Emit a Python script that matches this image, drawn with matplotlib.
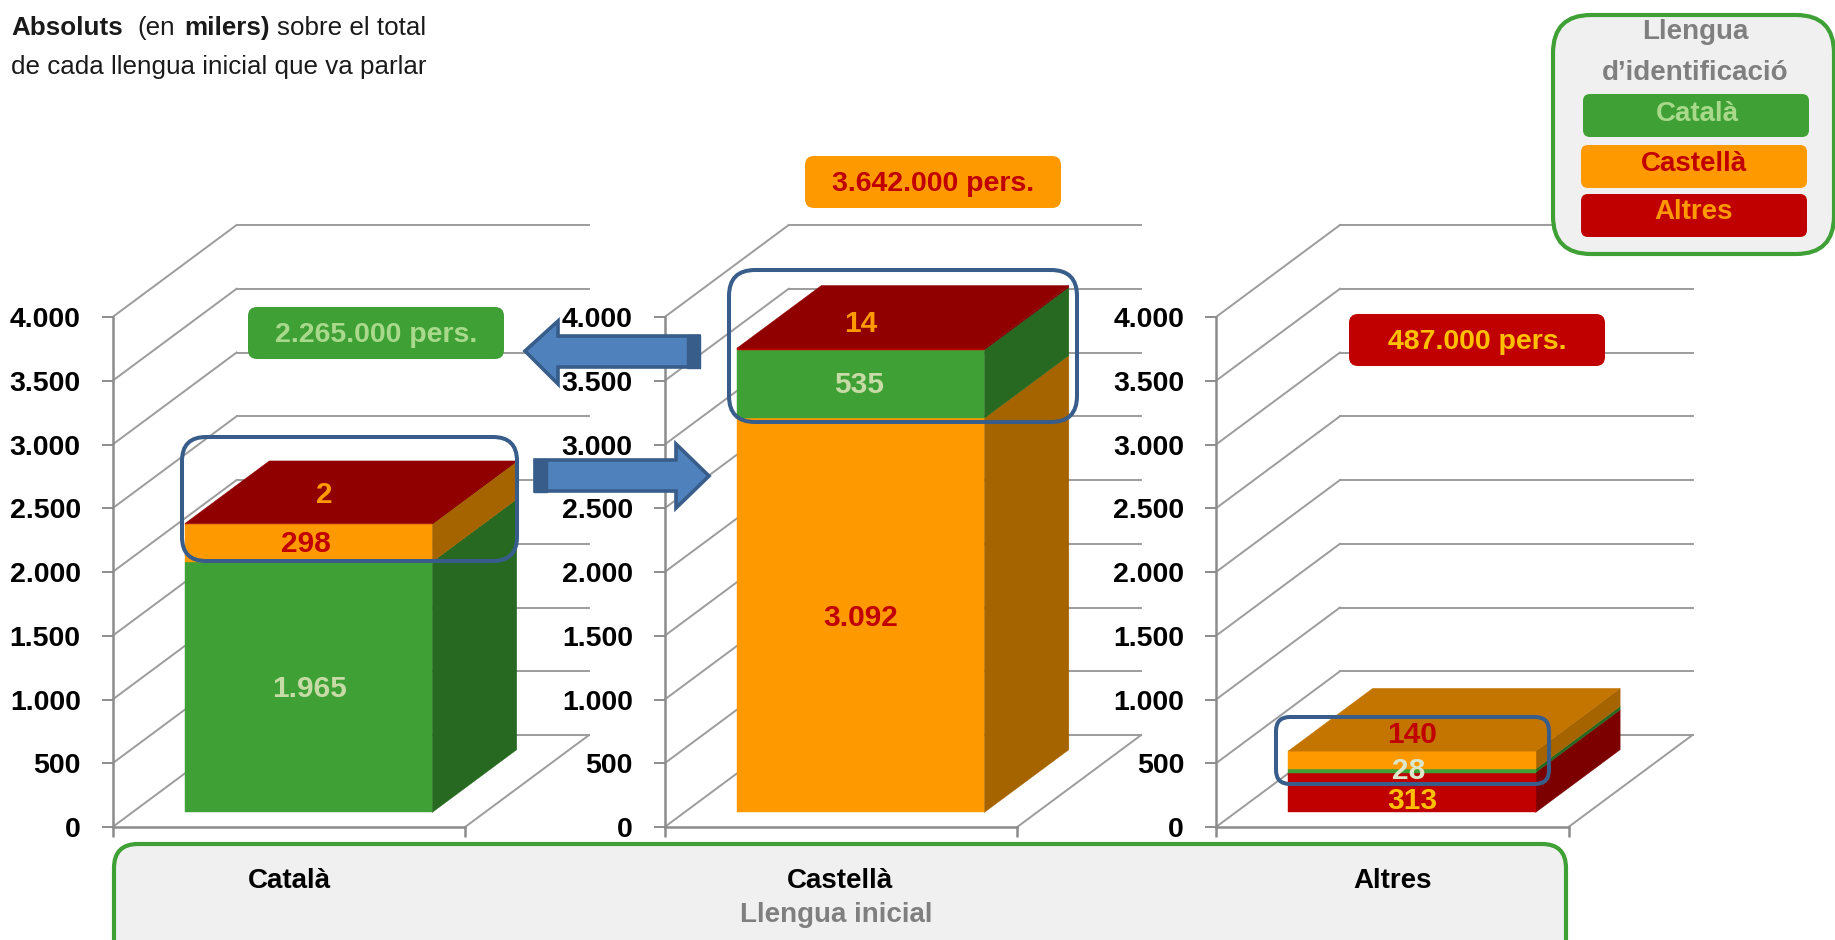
"""Stacked pseudo-3D bars: llengua inicial vs llengua d'identificacio (milers)"""
import matplotlib
matplotlib.use("Agg")
import matplotlib.pyplot as plt
from matplotlib.patches import FancyBboxPatch, Polygon

W, H = 1835, 940
plt.rcParams['font.family'] = ['Liberation Sans', 'DejaVu Sans']

# data
categories = ['Català', 'Castellà', 'Altres']
y_ticks = [0, 500, 1000, 1500, 2000, 2500, 3000, 3500, 4000]
y_tick_labels = ['0', '500', '1.000', '1.500', '2.000', '2.500', '3.000', '3.500', '4.000']

catala_values = [1965, 298, 2]
catala_langs = ['cat', 'cas', 'alt']
castella_values = [3092, 535, 14]
castella_langs = ['cas', 'cat', 'alt']
altres_values = [313, 28, 140]
altres_langs = ['alt', 'cat', 'cas']

catala_labels = ['1.965', '298', '2']
castella_labels = ['3.092', '535', '14']
altres_labels = ['313', '28', '140']
total_labels = ['2.265.000 pers.', '3.642.000 pers.', '487.000 pers.']

GREEN, ORANGE, RED = '#3EA035', '#FF9900', '#C00000'
front = {'cat': GREEN, 'cas': ORANGE, 'alt': RED}
side = {'cat': '#276921', 'cas': '#A66400', 'alt': '#7D0000'}
top = {'cat': '#2E7D27', 'cas': '#C47500', 'alt': '#910000'}
LIGHT = '#C6DBA6'
GRID = '#9C9C9C'
BLUE_EDGE = '#385D8A'
TXT = '#1A1A1A'

# depth of the fake 3D box, in axes data units
DX = 124 / 352.5
DY = 92 / 510 * 4000
BAR_X0, BAR_X1 = 0.149, 0.851
D0, D1 = 0.158, 0.84


def proj(x, v, d):
    return x + DX * d, v + DY * d


def draw_bar(ax, values, langs, labels, label_colors, offsets):
    bottom = 0
    for val, lang in zip(values, langs):
        ft = bottom + val
        side_pts = [proj(BAR_X1, bottom, D0), proj(BAR_X1, bottom, D1),
                    proj(BAR_X1, ft, D1), proj(BAR_X1, ft, D0)]
        ax.add_patch(Polygon(side_pts, fc=side[lang], ec=side[lang], lw=0.3, zorder=3, clip_on=False))
        front_pts = [proj(BAR_X0, bottom, D0), proj(BAR_X1, bottom, D0),
                     proj(BAR_X1, ft, D0), proj(BAR_X0, ft, D0)]
        ax.add_patch(Polygon(front_pts, fc=front[lang], ec=front[lang], lw=0.3, zorder=4, clip_on=False))
        bottom = ft
    top_pts = [proj(BAR_X0, bottom, D0), proj(BAR_X1, bottom, D0),
               proj(BAR_X1, bottom, D1), proj(BAR_X0, bottom, D1)]
    ax.add_patch(Polygon(top_pts, fc=top[langs[-1]], ec=top[langs[-1]], lw=0.3, zorder=4, clip_on=False))

    bottom = 0
    for val, lab, col, off in zip(values, labels, label_colors, offsets):
        xm, ym = proj((BAR_X0 + BAR_X1) / 2, bottom + val / 2, D0)
        ax.annotate(lab, (xm, ym), xytext=(off[0] * 0.72, off[1] * 0.72),
                    textcoords='offset points', ha='center', va='center',
                    color=col, fontsize=21.5, fontweight='bold',
                    zorder=6, annotation_clip=False)
        bottom += val


fig = plt.figure(figsize=(W / 100, H / 100), dpi=100)
fig.patch.set_facecolor('white')

panel_x = [112.6, 664.7, 1216]
panel_values = [catala_values, castella_values, altres_values]
panel_langs = [catala_langs, castella_langs, altres_langs]
panel_labels = [catala_labels, castella_labels, altres_labels]
panel_colors = [[LIGHT, RED, ORANGE], [RED, LIGHT, ORANGE], ['#FFC000', '#DCE6C8', RED]]
panel_offsets = [[(1, -2), (-3, -1), (16, 29)], [(0, -3), (-1, -1), (0, 25)], [(1, -8), (-3, 0), (0, 25)]]

for px, vals, langs, labs, cols, offs in zip(panel_x, panel_values, panel_langs,
                                             panel_labels, panel_colors, panel_offsets):
    ax = fig.add_axes([px / W, 1 - 827 / H, 352.5 / W, 510 / H])
    ax.patch.set_visible(False)
    ax.set_xlim(0, 1)
    ax.set_ylim(0, 4000)
    for s in ['top', 'right']:
        ax.spines[s].set_visible(False)
    for s in ['left', 'bottom']:
        ax.spines[s].set_color('#8C8C8C')
        ax.spines[s].set_linewidth(1.8)
    ax.set_yticks(y_ticks, y_tick_labels, fontsize=20.5, fontweight='bold')
    ax.set_xticks([0, 1], ['', ''])
    ax.tick_params(axis='y', length=8, width=1.4, color='#8C8C8C', pad=15)
    ax.tick_params(axis='x', length=7, width=1.8, color='#8C8C8C')

    # walls and floor
    for v in y_ticks:
        ax.plot([0, DX], [v, v + DY], color=GRID, lw=1.4, clip_on=False, zorder=1)
        ax.plot([DX, 1 + DX], [v + DY, v + DY], color=GRID, lw=1.4, clip_on=False, zorder=1)
    ax.plot([1, 1 + DX], [0, DY], color=GRID, lw=1.4, clip_on=False, zorder=1)

    draw_bar(ax, vals, langs, labs, cols, offs)

# overlay in figure pixels: boxes, arrows, legend, titles
ov = fig.add_axes([0, 0, 1, 1], zorder=10)
ov.set_xlim(0, W)
ov.set_ylim(H, 0)
ov.axis('off')


def rbox(x0, y0, x1, y1, r, fc, ec='none', lw=0, z=2):
    p = FancyBboxPatch((x0, y0), x1 - x0, y1 - y0, boxstyle=f'round,pad=0,rounding_size={r}',
                       fc=fc, ec=ec, lw=lw, zorder=z, clip_on=True)
    ov.add_patch(p)


# totals
rbox(248, 307, 504, 359, 9, GREEN)
ov.text(376, 335, total_labels[0], color='#A9D98B', fontsize=20.5, fontweight='bold',
        ha='center', va='center', zorder=3)
rbox(805, 156, 1061, 208, 9, ORANGE)
ov.text(933, 184, total_labels[1], color=RED, fontsize=20.5, fontweight='bold',
        ha='center', va='center', zorder=3)
rbox(1349, 314, 1605, 366, 9, RED)
ov.text(1477, 342, total_labels[2], color='#FFC000', fontsize=20.5, fontweight='bold',
        ha='center', va='center', zorder=3)

# highlight frames
rbox(182, 437, 517, 561, 24, 'none', BLUE_EDGE, 2.9, z=4)
rbox(729, 270, 1077, 422, 26, 'none', BLUE_EDGE, 2.9, z=4)
rbox(1276, 717, 1549, 784, 14, 'none', BLUE_EDGE, 2.9, z=4)

# arrows
ov.add_patch(Polygon([(699, 336), (558, 336), (558, 321), (525, 351), (558, 384), (558, 367), (699, 367)],
                     fc='#4F81BD', ec=BLUE_EDGE, lw=2.6, zorder=5))
ov.add_patch(Polygon([(687, 335), (700, 335), (700, 368), (687, 368)], fc=BLUE_EDGE, ec=BLUE_EDGE, lw=1, zorder=5))
ov.add_patch(Polygon([(535, 460), (676, 460), (676, 444), (709, 476), (676, 508), (676, 491), (535, 491)],
                     fc='#4F81BD', ec=BLUE_EDGE, lw=2.6, zorder=5))
ov.add_patch(Polygon([(534, 459), (547, 459), (547, 492), (534, 492)], fc=BLUE_EDGE, ec=BLUE_EDGE, lw=1, zorder=5))

# legend
rbox(1553, 15, 1834, 254, 38, '#F0F0F0', GREEN, 3, z=6)
ov.text(1695, 32, 'Llengua', color='#7F7F7F', fontsize=20, fontweight='bold', ha='center', va='center', zorder=7)
ov.text(1695, 73, 'd’identificació', color='#7F7F7F', fontsize=20, fontweight='bold', ha='center', va='center', zorder=7)
rbox(1583, 94, 1809, 137, 7, GREEN, z=7)
rbox(1581, 145, 1807, 188, 7, ORANGE, z=7)
rbox(1581, 194, 1807, 237, 7, RED, z=7)
ov.text(1697, 114, categories[0], color='#A9D98B', fontsize=20, fontweight='bold', ha='center', va='center', zorder=8)
ov.text(1694, 164, categories[1], color=RED, fontsize=20, fontweight='bold', ha='center', va='center', zorder=8)
ov.text(1694, 212, categories[2], color=ORANGE, fontsize=20, fontweight='bold', ha='center', va='center', zorder=8)

# bottom band
rbox(114, 844, 1566, 980, 24, '#F0F0F0', GREEN, 3, z=6)
for name, xc in zip(categories, [289, 840, 1393]):
    ov.text(xc, 881, name, color='black', fontsize=20, fontweight='bold', ha='center', va='center', zorder=7)
ov.text(836, 915, 'Llengua inicial', color='#7F7F7F', fontsize=20, fontweight='bold', ha='center', va='center', zorder=7)

# header
ov.text(11, 35, 'Absoluts', color=TXT, fontsize=18.75, fontweight='bold', va='baseline')
ov.text(137, 35, '(en', color=TXT, fontsize=18.75, va='baseline')
ov.text(184, 35, 'milers)', color=TXT, fontsize=18.75, fontweight='bold', va='baseline')
ov.text(277, 35, 'sobre el total', color=TXT, fontsize=18.75, va='baseline')
ov.text(11, 74, 'de cada llengua inicial que va parlar', color=TXT, fontsize=18.75, va='baseline')

fig.savefig('out.png', dpi=100)
